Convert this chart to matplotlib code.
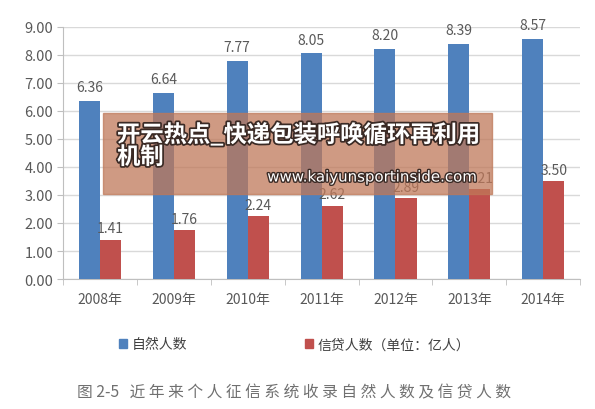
import matplotlib.pyplot as plt
import matplotlib.patheffects as pe
from matplotlib.patches import Patch, Rectangle
import numpy as np

plt.rcParams['font.family'] = ['Noto Sans CJK SC', 'DejaVu Sans']

years = ["2008年", "2009年", "2010年", "2011年", "2012年", "2013年", "2014年"]
natural = [6.36, 6.64, 7.77, 8.05, 8.20, 8.39, 8.57]
credit = [1.41, 1.76, 2.24, 2.62, 2.89, 3.21, 3.50]
yticks = [0, 1, 2, 3, 4, 5, 6, 7, 8, 9]

blue = "#4F81BD"
red = "#C0504D"
grey_txt = "#595959"

fig = plt.figure(figsize=(5.95, 4.10), dpi=100)
ax = fig.add_axes([0.106, 0.317, 0.869, 0.615])

x = np.arange(len(years))
w = 0.285
ax.bar(x - w / 2, natural, w, color=blue, zorder=3)
ax.bar(x + w / 2, credit, w, color=red, zorder=3)

for xi, v in zip(x, natural):
    ax.annotate(f"{v:.2f}", (xi - w / 2, v), xytext=(0, 5), textcoords="offset points",
                ha="center", va="bottom", fontsize=10, color=grey_txt, zorder=4)
for xi, v in zip(x, credit):
    ax.annotate(f"{v:.2f}", (xi + w / 2, v), xytext=(0, 3), textcoords="offset points",
                ha="center", va="bottom", fontsize=10, color=grey_txt, zorder=4)

ax.set_xlim(-0.5, len(years) - 0.5)
ax.set_ylim(0, 9)
ax.set_yticks(yticks)
ax.set_yticklabels([f"{t:.2f}" for t in yticks], fontsize=10.5, color=grey_txt)
ax.set_xticks(x)
ax.set_xticklabels(years, fontsize=10, color=grey_txt)
ax.set_xticks(np.arange(-0.5, len(years)), minor=True)
ax.tick_params(axis="x", which="major", length=0, pad=9)
ax.tick_params(axis="x", which="minor", length=4, color="#BFBFBF")
ax.tick_params(axis="y", length=4, color="#BFBFBF", pad=3)
ax.grid(axis="y", color="#D9D9D9", linewidth=1, zorder=0)
for s in ["top", "right"]:
    ax.spines[s].set_visible(False)
for s in ["left", "bottom"]:
    ax.spines[s].set_color("#BFBFBF")

# legend
handles = [Patch(color=blue, label="自然人数"), Patch(color=red, label="信贷人数（单位：亿人）")]
fig.legend(handles=handles, loc="center", bbox_to_anchor=(0.495, 0.158), ncol=2, frameon=False,
           fontsize=10, handlelength=0.6, handleheight=0.6, handletextpad=0.3,
           columnspacing=8.5, labelcolor="#404040")

# caption
fig.text(0.494, 0.043, "图 2-5   近 年 来 个 人 征 信 系 统 收 录 自 然 人 数 及 信 贷 人 数",
         ha="center", va="center", fontsize=11.3, color="#707070")

# watermark banner
fig.patches.append(Rectangle((103 / 595, 1 - 195 / 410), (492 - 103) / 595, (195 - 114) / 410,
                             transform=fig.transFigure, color=(0.75, 0.47, 0.35), alpha=0.75,
                             zorder=5))
shadow = [pe.withStroke(linewidth=2.5, foreground="#3a2a25")]
fig.text(117 / 595, 1 - 136 / 410, "开云热点_快递包装呼唤循环再利用", fontsize=16.8, fontweight="bold",
         color="white", va="center", ha="left", path_effects=shadow, zorder=6)
fig.text(117 / 595, 1 - 158 / 410, "机制", fontsize=16.8, fontweight="bold",
         color="white", va="center", ha="left", path_effects=shadow, zorder=6)
fig.text(478 / 595, 1 - 178 / 410, "www.kaiyunsportinside.com", fontsize=10.8,
         color="white", va="center", ha="right", family="DejaVu Sans",
         path_effects=[pe.withStroke(linewidth=2, foreground="#3a2a25")], zorder=6)

fig.savefig("out.png", dpi=100)
